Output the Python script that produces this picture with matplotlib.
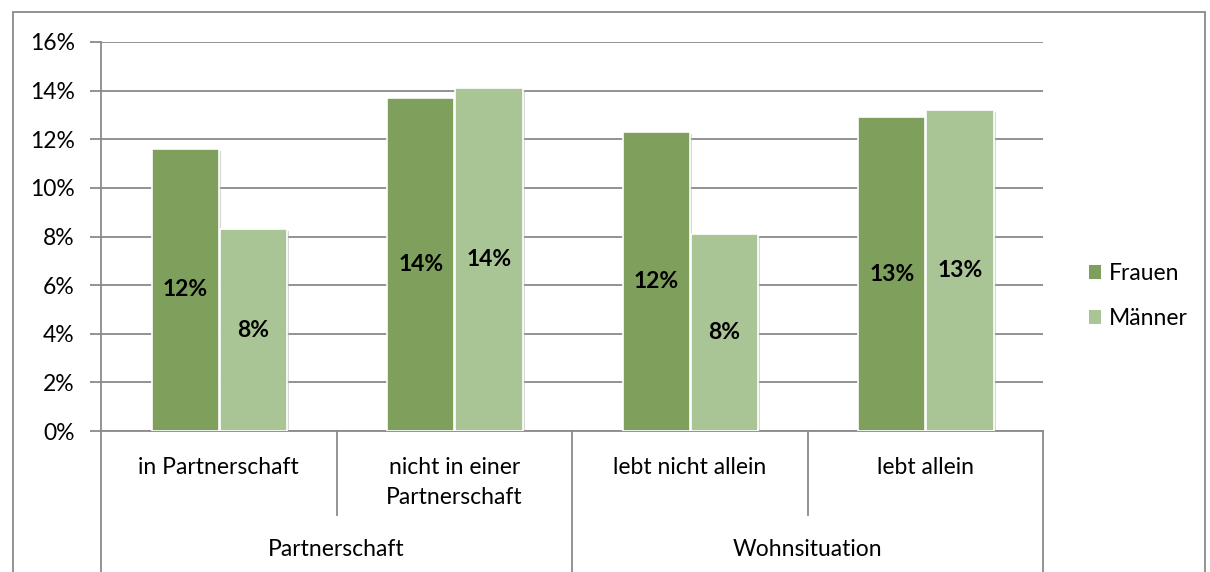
import matplotlib
matplotlib.use("Agg")
import matplotlib.pyplot as plt
import matplotlib.patheffects as pe
from matplotlib.patches import Rectangle
import numpy as np

plt.rcParams['font.family'] = ['Lato', 'DejaVu Sans']

categories = ['in Partnerschaft', 'nicht in einer\nPartnerschaft', 'lebt nicht allein', 'lebt allein']
groups = ['Partnerschaft', 'Wohnsituation']
frauen = [11.6, 13.7, 12.3, 12.9]
maenner = [8.3, 14.1, 8.1, 13.2]
yticks = [0, 2, 4, 6, 8, 10, 12, 14, 16]

c_frauen = '#7f9f5c'
c_maenner = '#a9c495'
c_grid = '#8a8a8a'
fs = 16.5

fig = plt.figure(figsize=(12.1, 5.72), dpi=100)
ax = fig.add_axes([101/1210, 1 - 431/572, (1043-101)/1210, (431-42)/572])

x = np.arange(len(categories))
w = 0.285
shadow = [pe.SimplePatchShadow(offset=(1.5, -1.5), shadow_rgbFace='#b0b0b0', alpha=0.5), pe.Normal()]
b1 = ax.bar(x - w/2, frauen, w, color=c_frauen, edgecolor='white', linewidth=1.2,
            label='Frauen', zorder=3, path_effects=shadow)
b2 = ax.bar(x + w/2 + 0.005, maenner, w, color=c_maenner, edgecolor='white', linewidth=1.2,
            label='Männer', zorder=3, path_effects=shadow)

for bars, vals in ((b1, frauen), (b2, maenner)):
    for b, v in zip(bars, vals):
        ax.text(b.get_x() + b.get_width()/2, v/2, f'{round(v):.0f}%', ha='center', va='center',
                fontsize=fs, fontweight='bold', color='black', zorder=4)

ax.set_xlim(-0.5, 3.5)
ax.set_ylim(0, 16)
ax.set_yticks(yticks)
ax.set_yticklabels([f'{t}%' for t in yticks], fontsize=fs)
ax.yaxis.grid(True, color=c_grid, linewidth=1.3, zorder=0)
ax.set_axisbelow(True)
ax.tick_params(axis='y', length=8, width=1.3, color=c_grid, pad=11)
ax.set_xticks([])
for s in ['top', 'right']:
    ax.spines[s].set_visible(False)
ax.spines['left'].set_color(c_grid)
ax.spines['left'].set_linewidth(1.3)
ax.spines['bottom'].set_color(c_grid)
ax.spines['bottom'].set_linewidth(1.3)

# category axis with two levels
trans = ax.get_xaxis_transform()
ax_h = 389  # axes height in px
def yfrac(py):
    return (431 - py) / ax_h

for i, lab in enumerate(categories):
    ax.text(i, yfrac(457), lab, ha='center', va='top', fontsize=fs, transform=trans,
            linespacing=1.55)
for b in [0.5, 2.5]:
    ax.plot([b, b], [0, yfrac(515)], color=c_grid, lw=1.3, transform=trans, clip_on=False)
for b in [-0.5, 1.5, 3.5]:
    ax.plot([b, b], [0, yfrac(572)], color=c_grid, lw=1.3, transform=trans, clip_on=False)
for j, g in enumerate(groups):
    ax.text(2*j + 0.5, yfrac(549), g, ha='center', va='center', fontsize=fs, transform=trans)

leg = fig.legend(handles=[b1, b2], labels=['Frauen', 'Männer'], loc='center left',
                 bbox_to_anchor=(1068/1210, 1 - 296/572), frameon=False, fontsize=fs,
                 handlelength=0.55, handleheight=0.55, handletextpad=0.35, labelspacing=1.05)
for h in leg.legend_handles:
    h.set_path_effects([])
    h.set_edgecolor('none')

fig.patches.append(Rectangle((13/1210, -0.01), (1205-13)/1210, (572-12)/572 + 0.01,
                             transform=fig.transFigure, fill=False, edgecolor='#8a8a8a', lw=1.3))

fig.savefig('out.png', dpi=100)
